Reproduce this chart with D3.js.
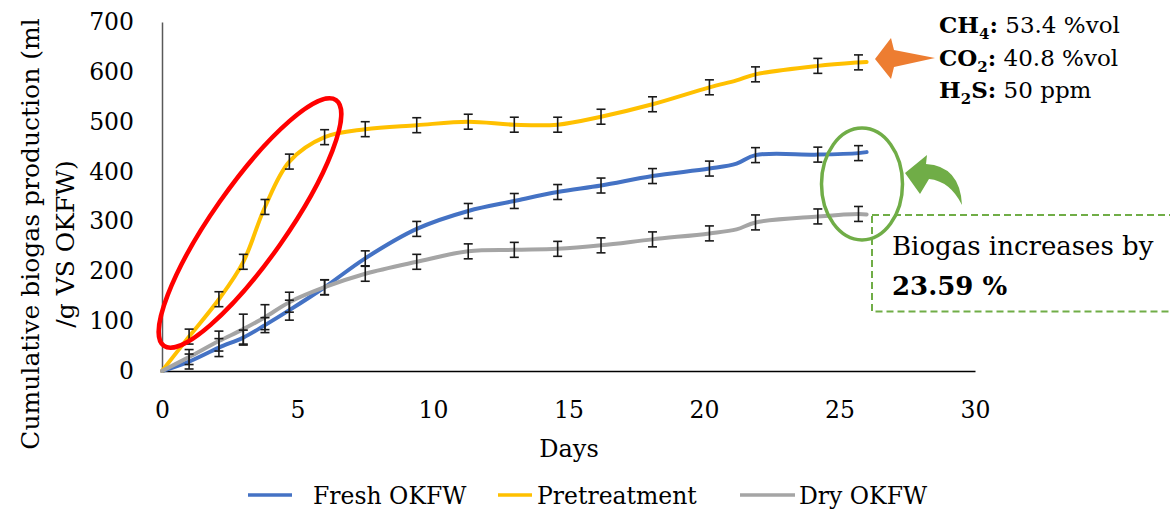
<!DOCTYPE html>
<html>
<head>
<meta charset="utf-8">
<script src="https://cdn.jsdelivr.net/npm/d3@7"></script>
<style>
  body { margin: 0; background: #fff; }
  svg text { font-family: "DejaVu Serif", serif; fill: #000; }
</style>
</head>
<body>
<script>
// days of sampling, shared by the three series
const days = [0, 1, 2.1, 3, 3.8, 4.7, 6, 7.5, 9.4, 11.3, 13, 14.6, 16.2, 18.1, 20.2, 21.2, 21.9, 24.2, 25.7, 26];
const fresh = [0, 19, 47, 67, 92, 122, 168, 226, 285, 321, 341, 359, 372, 391, 406, 416, 433, 434, 437, 439];
const pretreat = [0, 69, 144, 219, 329, 420, 469, 485, 493, 500, 494, 494, 510, 535, 569, 583, 595, 612, 619, 620];
const dry = [0, 28, 60, 84, 108, 138, 168, 195, 219, 240, 243, 245, 252, 264, 276, 284, 298, 310, 315, 314];
// error bar half-lengths (null = no bar drawn)
const freshErr = [null, 15, 18, 15, 15, 20, 15, 15, 15, 15, 15, 15, 15, 15, 15, null, 15, 15, 15, null];
const pretreatErr = [null, 15, 15, 15, 15, 15, 15, 15, 15, 15, 15, 15, 15, 15, 15, null, 15, 15, 15, null];
const dryErr = [null, 15, 20, 30, 25, 20, 15, 15, 15, 15, 15, 15, 15, 15, 15, null, 15, 15, 15, null];

const seriesNames = ["Fresh OKFW", "Pretreatment", "Dry OKFW"];
const xTicks = [0, 5, 10, 15, 20, 25, 30];
const yTicks = [0, 100, 200, 300, 400, 500, 600, 700];
const gasLines = [["CH", "4", ":", " 53.4 %vol"], ["CO", "2", ":", " 40.8 %vol"], ["H", "2", "S:", " 50 ppm"]];

const w = 1170, h = 510;
const colors = ["#4472C4", "#FFC000", "#A5A5A5"];

const svg = d3.select("body").append("svg")
  .attr("width", w)
  .attr("height", h);

const x = d3.scaleLinear().domain([0, 30]).range([162, 975]);
const y = d3.scaleLinear().domain([0, 700]).range([371, 22]);

const series = [
  { name: seriesNames[0], vals: fresh, err: freshErr, color: colors[0] },
  { name: seriesNames[1], vals: pretreat, err: pretreatErr, color: colors[1] },
  { name: seriesNames[2], vals: dry, err: dryErr, color: colors[2] }
];

// axes
const yAxis = svg.append("g")
  .attr("transform", `translate(${x(0)},0)`)
  .call(d3.axisLeft(y).tickValues(yTicks).tickSize(0).tickSizeOuter(0).tickPadding(28));
yAxis.select(".domain").attr("stroke", "#595959").attr("stroke-width", 1.5);
yAxis.selectAll("text").attr("font-size", 23.5).attr("font-family", "DejaVu Serif").attr("fill", "#000");

const xAxis = svg.append("g")
  .attr("transform", `translate(0,${y(0)})`)
  .call(d3.axisBottom(x).tickValues(xTicks).tickSize(0).tickSizeOuter(0).tickPadding(30));
xAxis.select(".domain").attr("stroke", "#000").attr("stroke-width", 1.5);
xAxis.selectAll("text").attr("font-size", 23.5).attr("font-family", "DejaVu Serif").attr("fill", "#000");

// lines
const line = d3.line()
  .x((d, i) => x(days[i]))
  .y(d => y(d))
  .curve(d3.curveCatmullRom.alpha(0.5));

svg.append("g").selectAll("path")
  .data(series)
  .enter()
  .append("path")
  .attr("d", s => line(s.vals))
  .attr("fill", "none")
  .attr("stroke", s => s.color)
  .attr("stroke-width", 4)
  .attr("stroke-linecap", "round");

// error bars
const bars = [];
series.forEach(s => {
  s.vals.forEach((v, i) => {
    if (s.err[i] != null) bars.push({ day: days[i], v: v, e: s.err[i] });
  });
});
const eb = svg.append("g").attr("stroke", "#1a1a1a").attr("stroke-width", 1.6);
bars.forEach(b => {
  const cx = x(b.day), y1 = y(b.v + b.e), y2 = y(b.v - b.e);
  eb.append("line").attr("x1", cx).attr("x2", cx).attr("y1", y1).attr("y2", y2);
  eb.append("line").attr("x1", cx - 4.5).attr("x2", cx + 4.5).attr("y1", y1).attr("y2", y1);
  eb.append("line").attr("x1", cx - 4.5).attr("x2", cx + 4.5).attr("y1", y2).attr("y2", y2);
});

// axis titles
svg.append("text")
  .attr("transform", "translate(39,234) rotate(-90)")
  .attr("text-anchor", "middle")
  .attr("font-size", 25)
  .text("Cumulative biogas production (ml");
svg.append("text")
  .attr("transform", "translate(74,244) rotate(-90)")
  .attr("text-anchor", "middle")
  .attr("font-size", 25)
  .text("/g VS OKFW)");
svg.append("text")
  .attr("x", 569)
  .attr("y", 457)
  .attr("text-anchor", "middle")
  .attr("font-size", 24)
  .text("Days");

// legend
const legendX = [[248, 292, 313], [498, 532, 537], [740, 795, 799]];
const legend = svg.append("g");
series.forEach((s, i) => {
  legend.append("line")
    .attr("x1", legendX[i][0]).attr("x2", legendX[i][1])
    .attr("y1", 495).attr("y2", 495)
    .attr("stroke", s.color).attr("stroke-width", 3.5);
  legend.append("text")
    .attr("x", legendX[i][2])
    .attr("y", 504)
    .attr("font-size", 23.5)
    .text(s.name);
});

// annotations
svg.append("ellipse")
  .attr("transform", "translate(250,223) rotate(-55)")
  .attr("rx", 150).attr("ry", 37)
  .attr("fill", "none")
  .attr("stroke", "#FF0000")
  .attr("stroke-width", 4.5);

svg.append("ellipse")
  .attr("cx", 862).attr("cy", 184)
  .attr("rx", 40.5).attr("ry", 56)
  .attr("fill", "none")
  .attr("stroke", "#70AD47")
  .attr("stroke-width", 3.5);

svg.append("path")
  .attr("d", "M875,59 L891,38 L894,50 L935,58 L894,67 L891,79 Z")
  .attr("fill", "#ED7D31");

svg.append("path")
  .attr("d", "M905,173 L927,155 L926,164 Q960,166 962,205 Q950,181 929,179 L920,194 Z")
  .attr("fill", "#70AD47");

svg.append("rect")
  .attr("x", 872).attr("y", 215)
  .attr("width", 320).attr("height", 96.5)
  .attr("fill", "none")
  .attr("stroke", "#70AD47")
  .attr("stroke-width", 2)
  .attr("stroke-dasharray", "7,4");

svg.append("text")
  .attr("x", 892).attr("y", 255)
  .attr("font-size", 26)
  .text("Biogas increases by");
svg.append("text")
  .attr("x", 892).attr("y", 295)
  .attr("font-size", 26)
  .attr("font-weight", "bold")
  .text("23.59 %");

const gas = svg.append("g");
gasLines.forEach((g, i) => {
  const t = gas.append("text")
    .attr("x", 939)
    .attr("y", 33 + i * 32.5)
    .attr("font-size", 23);
  t.append("tspan").attr("font-weight", "bold").text(g[0]);
  t.append("tspan").attr("font-weight", "bold").attr("font-size", 15).attr("dy", 6).text(g[1]);
  t.append("tspan").attr("font-weight", "bold").attr("dy", -6).text(g[2]);
  t.append("tspan").text(g[3]);
});
</script>
</body>
</html>
